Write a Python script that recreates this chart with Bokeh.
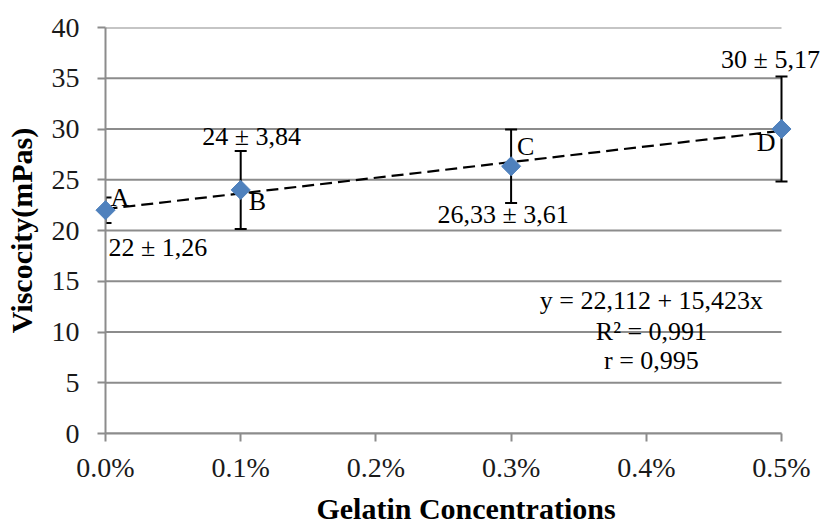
import numpy as np
from bokeh.plotting import figure
from bokeh.models import Range1d, FixedTicker, PrintfTickFormatter, Label, ColumnDataSource
from bokeh.embed import file_html
from bokeh.resources import INLINE

# ---- data ----
concentration = [0.0, 0.1, 0.3, 0.5]          # gelatin concentration, %
viscosity = [22.0, 24.0, 26.33, 30.0]          # mPas
sd = [1.26, 3.84, 3.61, 5.17]
letters = ["A", "B", "C", "D"]
value_labels = ["22 ± 1,26", "24 ± 3,84", "26,33 ± 3,61", "30 ± 5,17"]
intercept = 22.112
slope = 15.423
eq_lines = ["y = 22,112 + 15,423x", "R² = 0,991", "r = 0,995"]
x_ticks = [0.0, 0.1, 0.2, 0.3, 0.4, 0.5]
y_ticks = [0, 5, 10, 15, 20, 25, 30, 35, 40]

FONT = "Liberation Serif"
GRID = "#8c8c8c"
X0, X1 = x_ticks[0], x_ticks[-1]

p = figure(width=826, height=527, output_backend="svg", toolbar_location=None,
           x_range=Range1d(X0, X1 + 45 / 1352), y_range=Range1d(y_ticks[0], y_ticks[-1]),
           min_border_left=105, min_border_right=0, min_border_top=27, min_border_bottom=94)
p.outline_line_color = None
p.background_fill_color = "white"

# axes
p.xaxis.ticker = FixedTicker(ticks=x_ticks)
p.yaxis.ticker = FixedTicker(ticks=y_ticks)
p.xaxis.formatter = PrintfTickFormatter(format="%.1f%%")
p.xaxis.bounds = (X0, X1)
for ax in (p.xaxis[0], p.yaxis[0]):
    ax.axis_line_color = GRID
    ax.axis_line_width = 2
    ax.major_tick_line_color = GRID
    ax.major_tick_line_width = 2
    ax.major_tick_out = 8
    ax.major_tick_in = 0
    ax.minor_tick_line_color = None
    ax.major_label_text_font = FONT
    ax.major_label_text_font_size = "28px"
    ax.major_label_text_color = "#1a1a1a"
    ax.axis_label_text_font = FONT
    ax.axis_label_text_font_size = "30px"
    ax.axis_label_text_font_style = "bold"
    ax.axis_label_text_color = "black"
p.xaxis.axis_label = "Gelatin Concentrations"
p.yaxis.axis_label = "Viscocity(mPas)"
p.yaxis.major_label_standoff = 18
p.xaxis.major_label_standoff = 10
p.yaxis.axis_label_standoff = 11
p.xaxis.axis_label_standoff = 6

p.xgrid.grid_line_color = None
p.ygrid.grid_line_color = None
# horizontal gridlines limited to the data span
p.segment(x0=[X0] * len(y_ticks), x1=[X1] * len(y_ticks), y0=y_ticks, y1=y_ticks,
          line_color=GRID, line_width=2)

# trend line
tx = np.array([X0, X1])
p.line(tx, intercept + slope * tx, line_color="black", line_width=2.2, line_dash="12 6")

# error bars
src = ColumnDataSource(dict(x=concentration, y=viscosity,
                            lo=[v - s for v, s in zip(viscosity, sd)],
                            hi=[v + s for v, s in zip(viscosity, sd)]))
p.segment(x0="x", y0="lo", x1="x", y1="hi", source=src, line_color="black", line_width=2)
p.scatter(x="x", y="lo", source=src, marker="dash", size=12, line_color="black", line_width=2)
p.scatter(x="x", y="hi", source=src, marker="dash", size=12, line_color="black", line_width=2)

# markers
p.scatter(x="x", y="y", source=src, marker="square", angle=np.pi / 4, size=13.5,
          fill_color="#4f81bd", line_color="#4f81bd", level="overlay")

# point labels (offsets in pixels, y up)
letter_off = [(5, 13, "left"), (8, -12, "left"), (6, 20, "left"), (-6, -13, "right")]
value_off = [(3, -37, "left"), (11, 53, "center"), (-8, -48, "center"), (-11, 70, "center")]
for xv, yv, let, val, lo, vo in zip(concentration, viscosity, letters, value_labels, letter_off, value_off):
    p.add_layout(Label(x=xv, y=yv, text=let, x_offset=lo[0], y_offset=lo[1],
                       text_align=lo[2], text_baseline="middle",
                       text_font=FONT, text_font_size="26px", text_color="black"))
    p.add_layout(Label(x=xv, y=yv, text=val, x_offset=vo[0], y_offset=vo[1],
                       text_align=vo[2], text_baseline="middle",
                       text_font=FONT, text_font_size="26px", text_color="black"))

# equation block
eq_y = [13.1, 10.05, 7.2]
for line, yy in zip(eq_lines, eq_y):
    p.add_layout(Label(x=0.4038, y=yy, text=line, text_align="center", text_baseline="middle",
                       text_font=FONT, text_font_size="26px", text_color="black"))

open("out.html", "w").write(file_html(p, INLINE))
